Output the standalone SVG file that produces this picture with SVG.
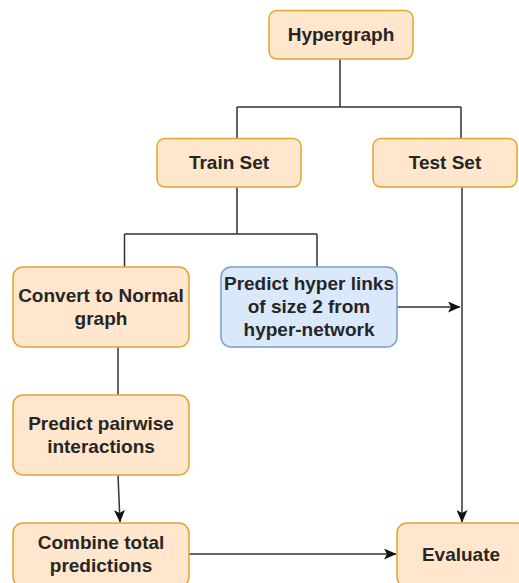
<svg xmlns="http://www.w3.org/2000/svg" width="519" height="583" viewBox="0 0 519 583">
<style>
.o{fill:#ffe6cc;stroke:#e0a62c;stroke-width:1.5}
.b{fill:#dae8fc;stroke:#7b9dcb;stroke-width:1.5}
.t{font-family:"Liberation Sans",Arial,sans-serif;font-size:19px;font-weight:bold;fill:#262626;text-anchor:middle}
.c{fill:none;stroke:#333;stroke-width:1.5}
</style>
<defs>
<marker id="ah" markerWidth="13" markerHeight="11" refX="12" refY="5.5" orient="auto" markerUnits="userSpaceOnUse">
<path d="M0,0 L12.5,5.5 L0,11 L3,5.5 Z" fill="#111"/>
</marker>
</defs>
<rect width="519" height="583" fill="#fff"/>
<g id="connectors">
<path class="c" d="M340,59 V107 M237,107 H461 M237,107 V139 M461,107 V139" />
<path class="c" d="M237,187 V234 M124.5,234 H317 M124.5,234 V267 M317,234 V267" />
<path class="c" d="M397,307 H460" marker-end="url(#ah)"/>
<path class="c" d="M462,187 V522" marker-end="url(#ah)"/>
<path class="c" d="M118,347 V395"/>
<path class="c" d="M118,475 L120,522" marker-end="url(#ah)"/>
<path class="c" d="M189,554 H396" marker-end="url(#ah)"/>
</g>
<g id="hypergraph"><rect class="o" x="269" y="10.5" width="144" height="48.5" rx="8"/><text class="t" x="341" y="41">Hypergraph</text></g>
<g id="train"><rect class="o" x="157" y="138.5" width="144" height="48.5" rx="8"/><text class="t" x="229" y="169">Train Set</text></g>
<g id="test"><rect class="o" x="373" y="138.5" width="144" height="48.5" rx="8"/><text class="t" x="445" y="169">Test Set</text></g>
<g id="convert"><rect class="o" x="13" y="267" width="176" height="80" rx="10"/><text class="t" x="101" y="301.5">Convert to Normal</text><text class="t" x="101" y="324.5">graph</text></g>
<g id="predicthyper"><rect class="b" x="221" y="267" width="176" height="80" rx="10"/><text class="t" x="309" y="290">Predict hyper links</text><text class="t" x="309" y="313">of size 2 from</text><text class="t" x="309" y="336">hyper-network</text></g>
<g id="pairwise"><rect class="o" x="13" y="395" width="176" height="80" rx="10"/><text class="t" x="101" y="429.5">Predict pairwise</text><text class="t" x="101" y="452.5">interactions</text></g>
<g id="combine"><rect class="o" x="13" y="523" width="176" height="64" rx="10"/><text class="t" x="101" y="549">Combine total</text><text class="t" x="101" y="572">predictions</text></g>
<g id="evaluate"><rect class="o" x="397" y="523" width="130" height="64" rx="10"/><text class="t" x="461" y="560.5">Evaluate</text></g>
</svg>
